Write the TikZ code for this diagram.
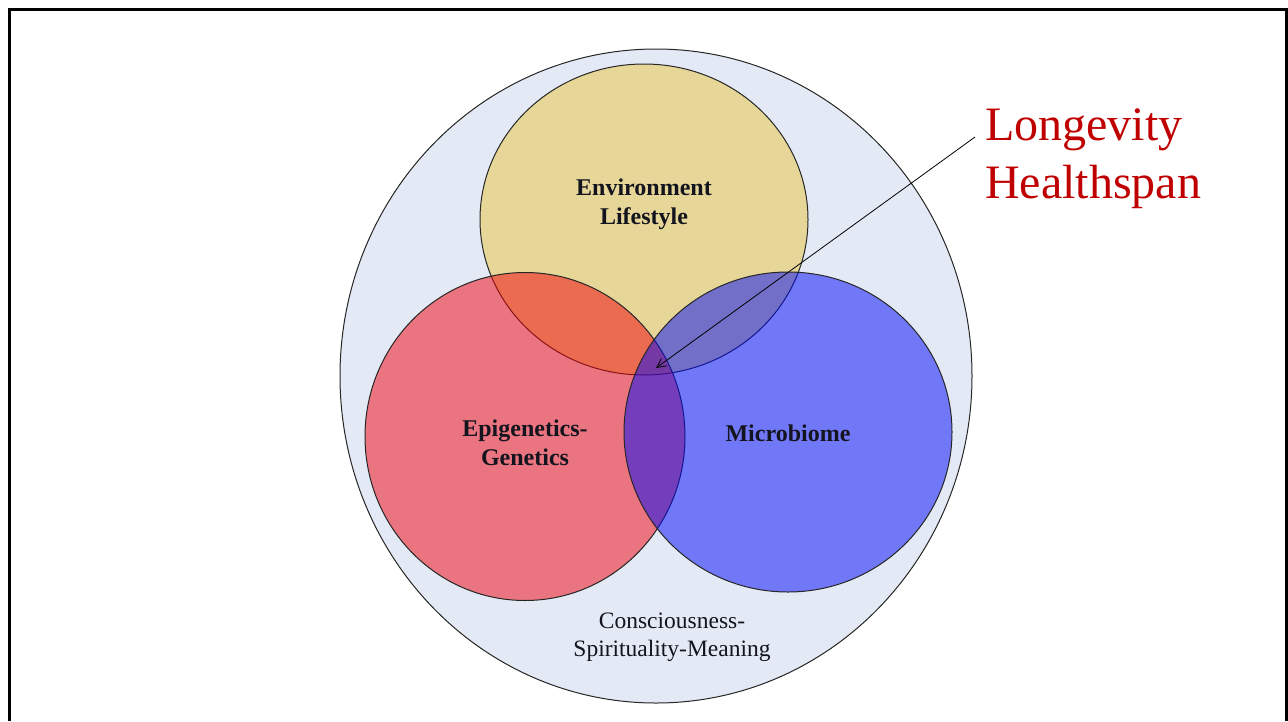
\documentclass[tikz,border=0pt]{standalone}
\usepackage{fontspec}
\setmainfont{Liberation Serif}
\usetikzlibrary{shapes.geometric,arrows.meta}
\definecolor{outerfill}{RGB}{228,234,245}
\definecolor{envfill}{RGB}{230,215,153}
\definecolor{redfill}{RGB}{240,0,10}
\definecolor{bluefill}{RGB}{0,8,250}
\definecolor{longred}{RGB}{192,0,0}
\definecolor{labelink}{RGB}{20,20,30}
\begin{document}
\begin{tikzpicture}[x=1pt,y=-1pt,
  venn/.style={ellipse, draw=black!85, line width=1pt, inner sep=0pt},
  boldlabel/.style={font=\fontsize{24}{29}\selectfont\bfseries, text=labelink, align=center},
  plainlabel/.style={font=\fontsize{23.5}{28}\selectfont, text=labelink, align=center},
  biglabel/.style={font=\fontsize{48}{58}\selectfont, text=longred, align=left, anchor=north west, inner sep=0pt}]
\useasboundingbox (0,0) rectangle (1288,721);
% frame
\draw[line width=3pt] (9.5,721) -- (9.5,9.5) -- (1286.5,9.5) -- (1286.5,721);
% circles
\node[venn, fill=outerfill, minimum width=632pt, minimum height=654pt] (outer) at (656,376) {};
\node[venn, fill=envfill, minimum width=328pt, minimum height=311pt] (env) at (644,219.5) {};
\node[venn, fill=redfill, fill opacity=0.5, minimum width=320pt, minimum height=328pt] (epi) at (525,436.5) {};
\node[venn, fill=bluefill, fill opacity=0.5, minimum width=328pt, minimum height=320pt] (micro) at (788,432) {};
% labels
\node[boldlabel] (envlabel) at (644,204) {Environment\\Lifestyle};
\node[boldlabel] (epilabel) at (525,443) {Epigenetics-\\Genetics};
\node[boldlabel] (microlabel) at (788,433) {Microbiome};
\node[plainlabel] (conslabel) at (672,637) {Consciousness-\\Spirituality-Meaning};
\node[biglabel] (longlabel) at (985,109) {Longevity\\Healthspan};
% arrow
\coordinate (tip) at (656,368);
\coordinate (tail) at (975,137);
\draw[line width=0.8pt, -{Straight Barb[length=9pt,width=9pt]}] (tail) -- (tip);
\end{tikzpicture}
\end{document}
